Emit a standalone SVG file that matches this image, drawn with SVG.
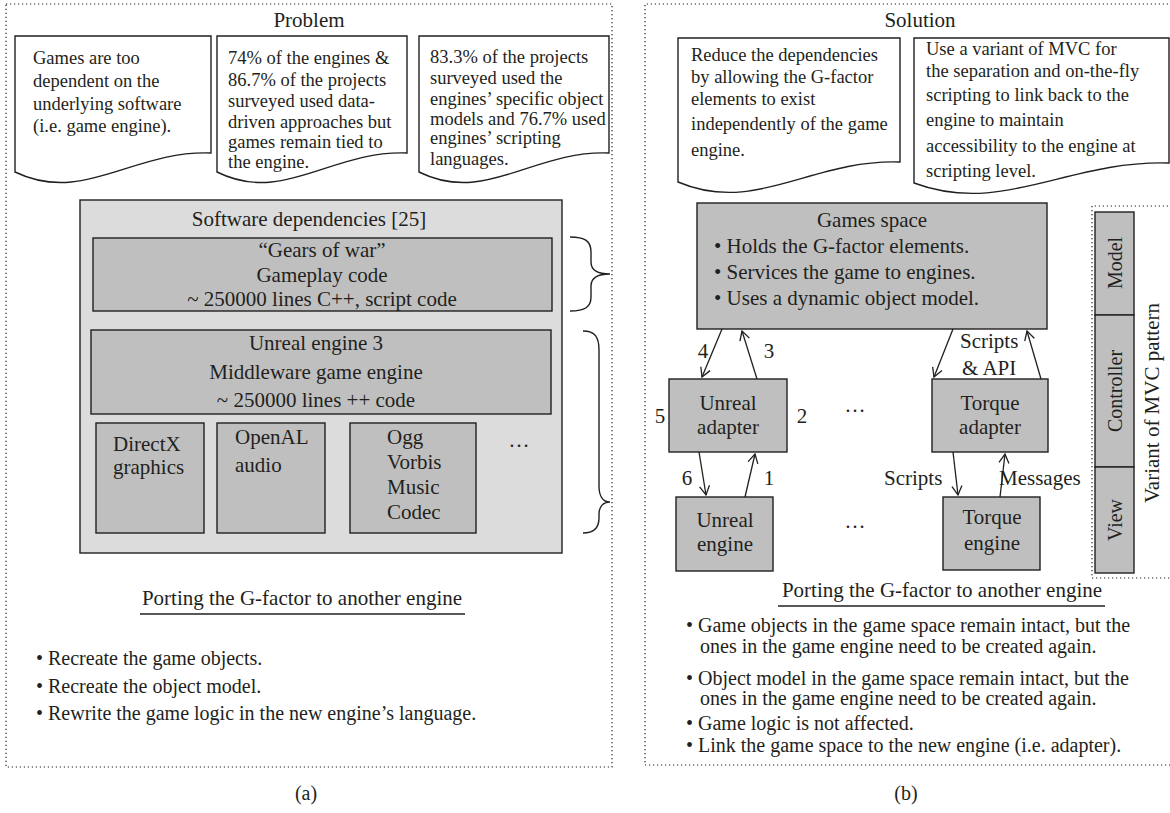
<svg xmlns="http://www.w3.org/2000/svg" width="1170" height="813" viewBox="0 0 1170 813">
<style>
text{font-family:"Liberation Serif","Times New Roman",serif;fill:#231f20}
.t21{font-size:21px}
.t20{font-size:20px}
.co{font-size:18.5px}
.mid{text-anchor:middle}
.dot{fill:none;stroke:#231f20;stroke-width:1.2;stroke-dasharray:1.2 2.8}
.doc{fill:#fff;stroke:#231f20;stroke-width:1.4}
.dk{fill:#bfbfbf;stroke:#231f20;stroke-width:1.4}
.lt{fill:#dcdcdc;stroke:#231f20;stroke-width:1.4}
.ln{fill:none;stroke:#231f20;stroke-width:1.3}
.br{fill:none;stroke:#231f20;stroke-width:1.4}
</style>
<defs>
<marker id="ah" viewBox="0 0 12 12" refX="10" refY="6" markerWidth="12" markerHeight="12" markerUnits="userSpaceOnUse" orient="auto">
<path d="M1,1 L10,6 L1,11" fill="none" stroke="#231f20" stroke-width="1.3"/>
</marker>
</defs>
<rect width="1170" height="813" fill="#fff"/>

<!-- frames -->
<g id="frames">
<rect class="dot" x="6" y="4" width="606" height="763"/>
<path class="dot" d="M1172,4 H645 V765 H1172"/>
<path class="dot" d="M1172,206 H1092 V578 H1172"/>
</g>

<!-- Panel (a) -->
<g id="panel-a">
<text class="t21 mid" x="309" y="27">Problem</text>

<g id="callout-a1">
<path class="doc" d="M15,36 H211 V153 C132.6,150 83.6,205 15,172 Z"/>
<text class="co" x="33" y="64">Games are too</text>
<text class="co" x="33" y="87">dependent on the</text>
<text class="co" x="33" y="110">underlying software</text>
<text class="co" x="33" y="132">(i.e. game engine).</text>
</g>

<g id="callout-a2">
<path class="doc" d="M217,36 H407 V153 C331,150 283.5,205 217,172 Z"/>
<text class="co" x="228" y="64">74% of the engines &amp;</text>
<text class="co" x="228" y="86">86.7% of the projects</text>
<text class="co" x="228" y="107">surveyed used data-</text>
<text class="co" x="228" y="128">driven approaches but</text>
<text class="co" x="228" y="148">games remain tied to</text>
<text class="co" x="228" y="168">the engine.</text>
</g>

<g id="callout-a3">
<path class="doc" d="M419,36 H609 V153 C533,150 485.5,205 419,172 Z"/>
<text class="co" x="430" y="63">83.3% of the projects</text>
<text class="co" x="430" y="84">surveyed used the</text>
<text class="co" x="430" y="105">engines’ specific object</text>
<text class="co" x="430" y="125">models and 76.7% used</text>
<text class="co" x="430" y="144">engines’ scripting</text>
<text class="co" x="430" y="165">languages.</text>
</g>

<g id="software-deps">
<rect class="lt" x="80" y="200" width="482" height="353"/>
<text class="t21 mid" x="309" y="226">Software dependencies [25]</text>
</g>

<g id="gears">
<rect class="dk" x="93" y="238" width="459" height="73"/>
<text class="t21 mid" x="322" y="257">“Gears of war”</text>
<text class="t21 mid" x="322" y="282">Gameplay code</text>
<text class="t21 mid" x="322" y="306">~ 250000 lines C++, script code</text>
</g>

<g id="unreal3">
<rect class="dk" x="91" y="330" width="460" height="84"/>
<text class="t21 mid" x="316" y="350">Unreal engine 3</text>
<text class="t21 mid" x="316" y="379">Middleware game engine</text>
<text class="t21 mid" x="316" y="407">~ 250000 lines ++ code</text>
</g>

<g id="directx">
<rect class="dk" x="96" y="423" width="108" height="110"/>
<text class="t21" x="113" y="451">DirectX</text>
<text class="t21" x="113" y="474">graphics</text>
</g>

<g id="openal">
<rect class="dk" x="217" y="423" width="108" height="110"/>
<text class="t21" x="235" y="444">OpenAL</text>
<text class="t21" x="235" y="472">audio</text>
</g>

<g id="ogg">
<rect class="dk" x="350" y="423" width="126" height="110"/>
<text class="t21" x="387" y="444">Ogg</text>
<text class="t21" x="387" y="469">Vorbis</text>
<text class="t21" x="387" y="494">Music</text>
<text class="t21" x="387" y="519">Codec</text>
</g>
<text class="t21 mid" x="519" y="447">…</text>

<g id="braces">
<path class="br" d="M570,237 C585,237 591,241 591,252 V262 C591,270 598,274 610,274 C598,274 591,278 591,286 V297 C591,307 585,311 570,311"/>
<path class="br" d="M583,331 C595,331 599,337 599,350 V486 C599,496 603,502 610,502 C603,502 599,507 599,514 V518 C599,528 593,533 583,533"/>
</g>

<g id="porting-a">
<text class="t21 mid" x="302" y="605">Porting the G-factor to another engine</text>
<line class="ln" x1="140" y1="614" x2="465" y2="614" stroke-width="1.2"/>
<text class="t20" x="36" y="665">• Recreate the game objects.</text>
<text class="t20" x="36" y="693">• Recreate the object model.</text>
<text class="t20" x="36" y="720">• Rewrite the game logic in the new engine’s language.</text>
</g>
<text class="t20 mid" x="306" y="800">(a)</text>
</g>

<!-- Panel (b) -->
<g id="panel-b">
<text class="t21 mid" x="920" y="27">Solution</text>

<g id="callout-b1">
<path class="doc" d="M678,38 H900 V162 C811,159 756,215 678,182 Z"/>
<text class="co" x="691" y="61">Reduce the dependencies</text>
<text class="co" x="691" y="83">by allowing the G-factor</text>
<text class="co" x="691" y="105">elements to exist</text>
<text class="co" x="691" y="130">independently of the game</text>
<text class="co" x="691" y="156">engine.</text>
</g>

<g id="callout-b2">
<path class="doc" d="M914,38 H1169 V163 C1067,160 1003,216 914,183 Z"/>
<text class="co" x="926" y="55">Use a variant of MVC for</text>
<text class="co" x="926" y="77">the separation and on-the-fly</text>
<text class="co" x="926" y="101">scripting to link back to the</text>
<text class="co" x="926" y="126">engine to maintain</text>
<text class="co" x="926" y="152">accessibility to the engine at</text>
<text class="co" x="926" y="177">scripting level.</text>
</g>

<g id="games-space">
<rect class="dk" x="697" y="203" width="350" height="126"/>
<text class="t21 mid" x="872" y="227">Games space</text>
<text class="t21" x="714" y="253">• Holds the G-factor elements.</text>
<text class="t21" x="714" y="279">• Services the game to engines.</text>
<text class="t21" x="714" y="305">• Uses a dynamic object model.</text>
</g>

<g id="unreal-adapter">
<rect class="dk" x="669" y="379" width="118" height="73"/>
<text class="t21 mid" x="728" y="410">Unreal</text>
<text class="t21 mid" x="728" y="434">adapter</text>
</g>

<g id="unreal-engine">
<rect class="dk" x="676" y="497" width="97" height="74"/>
<text class="t21 mid" x="725" y="527">Unreal</text>
<text class="t21 mid" x="725" y="551">engine</text>
</g>

<g id="torque-adapter">
<rect class="dk" x="932" y="379" width="116" height="73"/>
<text class="t21 mid" x="990" y="410">Torque</text>
<text class="t21 mid" x="990" y="434">adapter</text>
</g>

<g id="torque-engine">
<rect class="dk" x="943" y="497" width="97" height="73"/>
<text class="t21 mid" x="992" y="524">Torque</text>
<text class="t21 mid" x="992" y="550">engine</text>
</g>

<text class="t21 mid" x="855" y="412">…</text>
<text class="t21 mid" x="855" y="528">…</text>

<g id="mvc">
<rect class="dk" x="1095" y="212" width="39" height="103"/>
<rect class="dk" x="1095" y="315" width="39" height="152"/>
<rect class="dk" x="1095" y="467" width="39" height="106"/>
<text class="t20 mid" transform="translate(1122,263) rotate(-90)">Model</text>
<text class="t20 mid" transform="translate(1122,391) rotate(-90)">Controller</text>
<text class="t20 mid" transform="translate(1122,520) rotate(-90)">View</text>
<text class="t21 mid" transform="translate(1159,403) rotate(-90)">Variant of MVC pattern</text>
</g>

<g id="porting-b">
<text class="t21 mid" x="942" y="597">Porting the G-factor to another engine</text>
<line class="ln" x1="778" y1="606" x2="1105" y2="606" stroke-width="1.2"/>
<text class="t20" x="686" y="632">• Game objects in the game space remain intact, but the</text>
<text class="t20" x="700" y="653">ones in the game engine need to be created again.</text>
<text class="t20" x="686" y="685">• Object model in the game space remain intact, but the</text>
<text class="t20" x="700" y="705">ones in the game engine need to be created again.</text>
<text class="t20" x="686" y="730">• Game logic is not affected.</text>
<text class="t20" x="686" y="752">• Link the game space to the new engine (i.e. adapter).</text>
</g>
<text class="t20 mid" x="906" y="800">(b)</text>
</g>

<!-- connectors -->
<g id="connectors" class="ln">
<line x1="722" y1="329" x2="702" y2="377" marker-end="url(#ah)"/>
<line x1="757" y1="379" x2="742" y2="331" marker-end="url(#ah)"/>
<line x1="953" y1="329" x2="934" y2="377" marker-end="url(#ah)"/>
<line x1="1041" y1="379" x2="1027" y2="331" marker-end="url(#ah)"/>
<line x1="699" y1="452" x2="706" y2="495" marker-end="url(#ah)"/>
<line x1="745" y1="497" x2="755" y2="454" marker-end="url(#ah)"/>
<line x1="953" y1="452" x2="958" y2="495" marker-end="url(#ah)"/>
<line x1="1000" y1="497" x2="1005" y2="454" marker-end="url(#ah)"/>
</g>
<g id="connector-labels">
<text class="t21 mid" x="703" y="358">4</text>
<text class="t21 mid" x="769" y="358">3</text>
<text class="t21 mid" x="660" y="423">5</text>
<text class="t21 mid" x="802" y="423">2</text>
<text class="t21 mid" x="687" y="485">6</text>
<text class="t21 mid" x="769" y="485">1</text>
<text class="t21" x="960" y="348">Scripts</text>
<text class="t21" x="962" y="375">&amp; API</text>
<text class="t21" x="884" y="485">Scripts</text>
<text class="t21" x="999" y="485">Messages</text>
</g>
</svg>
